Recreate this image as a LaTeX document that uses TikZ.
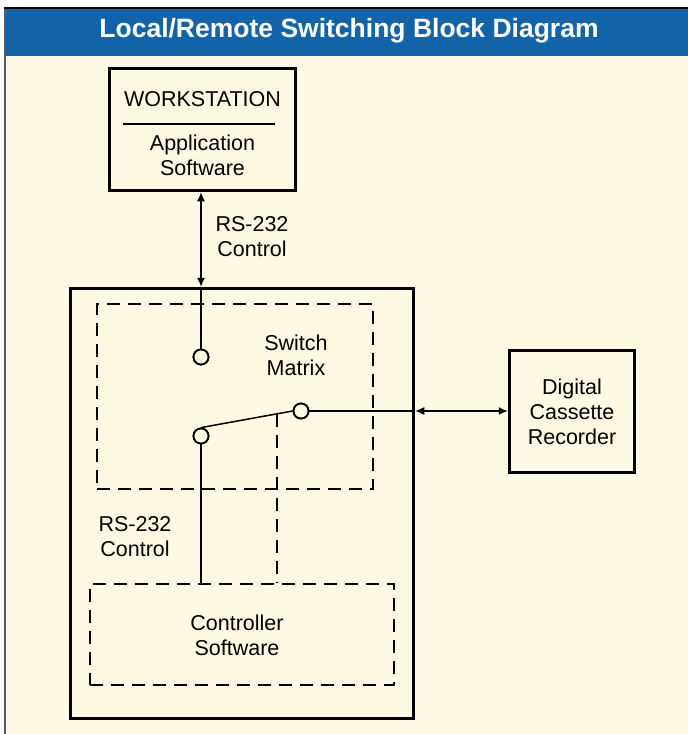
\documentclass[tikz,border=0pt]{standalone}
\usepackage{fontspec}
\setmainfont{Liberation Sans}
\usetikzlibrary{arrows.meta}
\usetikzlibrary{calc}
\definecolor{cream}{RGB}{254,249,226}
\definecolor{headblue}{RGB}{18,99,168}
\definecolor{framegray}{RGB}{90,90,90}

\begin{document}
\begin{tikzpicture}[x=1pt,y=-1pt]
		\tikzset{block/.style = {draw,line width=3.5pt,inner sep=0pt,align=center,font=\fontsize{21.5}{25}\selectfont}}
		\tikzset{dashblock/.style = {draw,line width=1.5pt,dash pattern=on 13pt off 8pt,inner sep=0pt,align=center,font=\fontsize{21.5}{25}\selectfont}}
		\tikzset{contact/.style = {shape=circle,draw,line width=1.8pt,minimum size=15pt,inner sep=0pt,fill=cream}}
		\tikzset{label/.style = {align=center,font=\fontsize{21.5}{25}\selectfont}}
		\tikzset{link/.style = {line width=1.3pt,{Latex[length=9pt,width=8pt]}-{Latex[length=9pt,width=8pt]}}}
		\useasboundingbox (0,0) rectangle (688,734);
		\fill[white] (0,0) rectangle (688,734);
		\fill[cream] (5,8) rectangle (688,734);
		\fill[headblue] (6,9) rectangle (688,56);
		\draw[framegray,line width=2pt] (5,734) -- (5,8);
		\draw[black,line width=2pt] (4,8) -- (688,8);
		\node[text=white,font=\fontsize{26.5}{30}\selectfont\bfseries] (title) at (349,31) {Local/Remote Switching Block Diagram};
			\node[block,minimum width=186pt,minimum height=122pt] (ws) at (202.5,129.5) {};
				\node[label] (wsname) at (202.5,99) {WORKSTATION};
				\node[label] (app) at (202.5,155) {Application\\Software};
				\draw[line width=1.3pt] (123,124) -- (275,124);
			\node[block,minimum width=343pt,minimum height=430pt] (main) at (242,503.5) {};
			\node[dashblock,minimum width=276pt,minimum height=185pt] (sm) at (235,396.5) {};
			\node[dashblock,minimum width=304pt,minimum height=101pt] (cs) at (242,634.5) {};
			\node[label] (cslabel) at (237,635) {Controller\\Software};
			\node[block,minimum width=125pt,minimum height=122pt] (dcr) at (572,411.5) {Digital\\Cassette\\Recorder};
			\node[label] (smlabel) at (296,355) {Switch\\Matrix};
			\node[label] (rstop) at (252,237) {RS-232\\Control};
			\node[label] (rsleft) at (135,537) {RS-232\\Control};
			\node[contact] (c1) at (201,357) {};
			\node[contact] (c2) at (201,436) {};
			\node[contact] (c3) at (301,411) {};
			\coordinate (tap) at ($(c2.north)!0.83!(c3.west)$);
		\draw[link] (c1 |- ws.south) -- (c1 |- main.north);
		\draw[line width=1.5pt] (c1 |- main.north) -- (c1);
		\draw[line width=1.5pt] (c2.north) -- (c3.west);
		\draw[line width=1.5pt,dash pattern=on 13pt off 8pt] (tap) -- (tap |- cs.north);
		\draw[line width=1.5pt] (c2) -- (c2 |- cs.north);
		\draw[line width=2pt] (c3) -- (c3 -| main.east);
		\draw[link] (c3 -| main.east) -- (c3 -| dcr.west);
		\node[contact] at (c1) {};
		\node[contact] at (c2) {};
		\node[contact] at (c3) {};
\end{tikzpicture}
\end{document}
